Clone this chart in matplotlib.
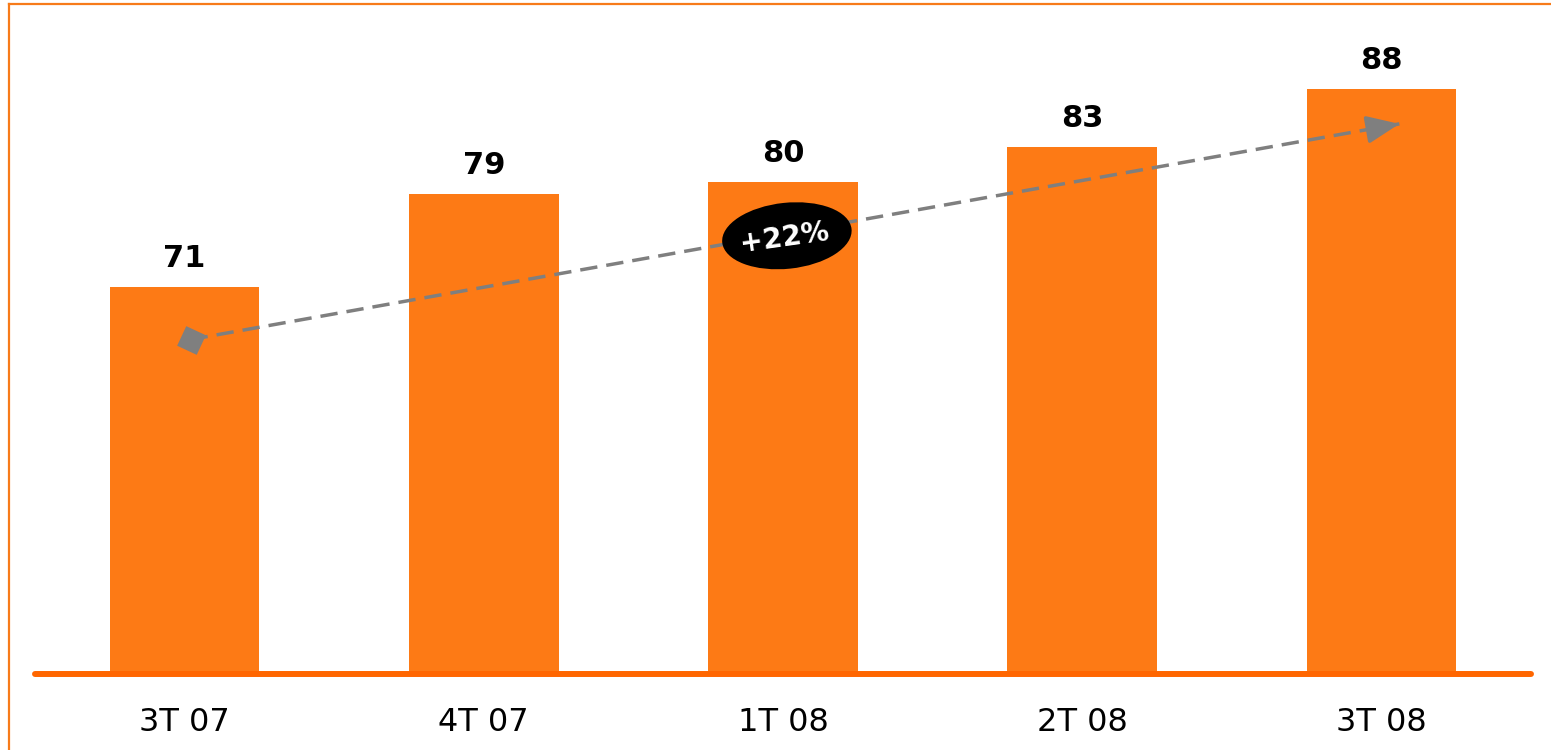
import matplotlib.pyplot as plt
from matplotlib.patches import Ellipse
from matplotlib.lines import Line2D
import matplotlib.transforms as mtransforms

quarters = ["3T 07", "4T 07", "1T 08", "2T 08", "3T 08"]
values = [71, 79, 80, 83, 88]
growth_label = "+22%"

# trend arrow, start/end in data units
trend_x = [0.02, 4.06]
trend_y = [66.5, 85.0]

bar_color = "#FD7A15"
base_color = "#FF6600"
grey = "#7F7F7F"

fig = plt.figure(figsize=(15.51, 7.5), dpi=100)
ax = fig.add_axes([35 / 1551, 76 / 750, 1496 / 1551, 669 / 750])

x = list(range(len(quarters)))
ax.bar(x, values, width=0.5, color=bar_color, zorder=2)
ax.set_xlim(-0.5, 4.5)
ax.set_ylim(37.8, 95.2)

for xi, v in zip(x, values):
    ax.annotate(str(v), (xi, v), xytext=(0, 10), textcoords="offset points",
                ha="center", va="bottom", fontsize=22, fontweight="bold", color="black")

# baseline
ax.plot([0, 1], [0, 0], transform=ax.transAxes, color=base_color, lw=4.3,
        solid_capstyle="round", clip_on=False, zorder=3)

for s in ax.spines.values():
    s.set_visible(False)
ax.set_yticks([])
ax.set_xticks(x)
ax.set_xticklabels(quarters, fontsize=23)
ax.tick_params(axis="x", length=0, pad=24)

# dashed trend line with diamond start and triangle head
ax.plot(trend_x, trend_y, color=grey, lw=2.5, dashes=(5, 2.6), zorder=4)
ax.plot(trend_x[0], trend_y[0], marker=(4, 0, 20), ms=22, color=grey, mew=0, zorder=5)
dx = trend_x[1] - trend_x[0]
dy = trend_y[1] - trend_y[0]
ax.annotate("", xy=(trend_x[1], trend_y[1]),
            xytext=(trend_x[1] - 0.1, trend_y[1] - 0.1 * dy / dx),
            arrowprops=dict(arrowstyle="-|>,head_length=2.0,head_width=0.85",
                            color=grey, lw=2.5, shrinkA=0, shrinkB=0), zorder=5)

# growth ellipse
trans = fig.dpi_scale_trans + mtransforms.ScaledTranslation(2.013, 75.4, ax.transData)
ax.add_patch(Ellipse((0, 0), 1.30, 0.66, angle=6, transform=trans,
                     facecolor="black", edgecolor="none", zorder=6, clip_on=False))
ax.text(2.005, 75.2, growth_label, ha="center", va="center", rotation=8,
        fontsize=20, fontweight="bold", color="white", zorder=7)

# orange frame (only left and top visible)
fig.add_artist(Line2D([8.5 / 1551, 8.5 / 1551], [0, 1 - 3.5 / 750],
                      transform=fig.transFigure, color="#F77B1A", lw=1.6))
fig.add_artist(Line2D([8.5 / 1551, 1], [1 - 3.5 / 750, 1 - 3.5 / 750],
                      transform=fig.transFigure, color="#F77B1A", lw=1.6))

fig.savefig("out.png", dpi=100)
